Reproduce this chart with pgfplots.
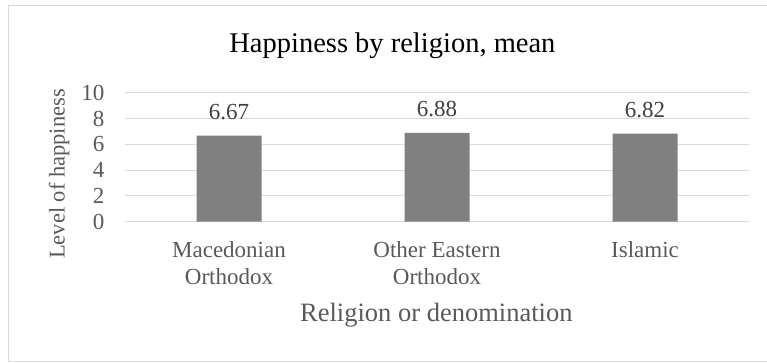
\documentclass[border=0pt]{standalone}
\usepackage{fontspec}
\setmainfont{Liberation Serif}
\usepackage{pgfplots}
\pgfplotsset{compat=1.18}
\definecolor{gridgray}{HTML}{D9D9D9}
\definecolor{bargray}{HTML}{808080}
\definecolor{labelgray}{HTML}{595959}
\definecolor{valgray}{HTML}{404040}

\begin{document}
\begin{tikzpicture}[x=1pt,y=1pt]
\useasboundingbox (0,0) rectangle (767,362);
% chart frame
\begin{scope}
  \clip (0,0) rectangle (767,362);
  \draw[gridgray, line width=1pt] (8.5,0.8) rectangle (780,356.5);
\end{scope}
% title and axis titles
\node[anchor=base, inner sep=0pt, font=\fontsize{28.5}{34}\selectfont, text=black]
  at (392.4,309.3) {Happiness by religion, mean};
\node[anchor=base, inner sep=0pt, font=\fontsize{26.5}{31}\selectfont, text=labelgray]
  at (436.3,40.3) {Religion or denomination};
\node[rotate=90, anchor=base, inner sep=0pt, font=\fontsize{22.5}{27}\selectfont, text=labelgray]
  at (64.5,188) {Level of happiness};
\begin{axis}[
  at={(125pt,140.3pt)}, anchor=south west,
  scale only axis, width=624pt, height=129pt,
  xmin=-0.5, xmax=2.5, ymin=0, ymax=10,
  ytick={0,2,4,6,8,10},
  xtick={0,1,2},
  xticklabels={{Macedonian\\Orthodox},{Other Eastern\\Orthodox},{Islamic}},
  axis line style={draw=none},
  major tick length=0pt,
  ymajorgrids,
  grid style={gridgray, line width=1pt},
  /pgf/number format/assume math mode=true,
  yticklabel style={anchor=east, inner sep=0pt, xshift=-20.5pt,
    font=\fontsize{23}{27}\selectfont, text=labelgray},
  xticklabel style={anchor=north, inner sep=0pt, yshift=-20pt, align=center,
    font=\fontsize{23}{26.7}\selectfont, text=labelgray},
  ybar, bar width=65pt,
  nodes near coords={\pgfmathprintnumber[fixed,fixed zerofill,precision=2]{\pgfplotspointmeta}},
  nodes near coords style={anchor=base, inner sep=0pt, yshift=16pt,
    font=\fontsize{23}{27}\selectfont, text=valgray},
]
\addplot[fill=bargray, draw=none] coordinates {(0,6.67) (1,6.88) (2,6.82)};
\end{axis}
\end{tikzpicture}
\end{document}
